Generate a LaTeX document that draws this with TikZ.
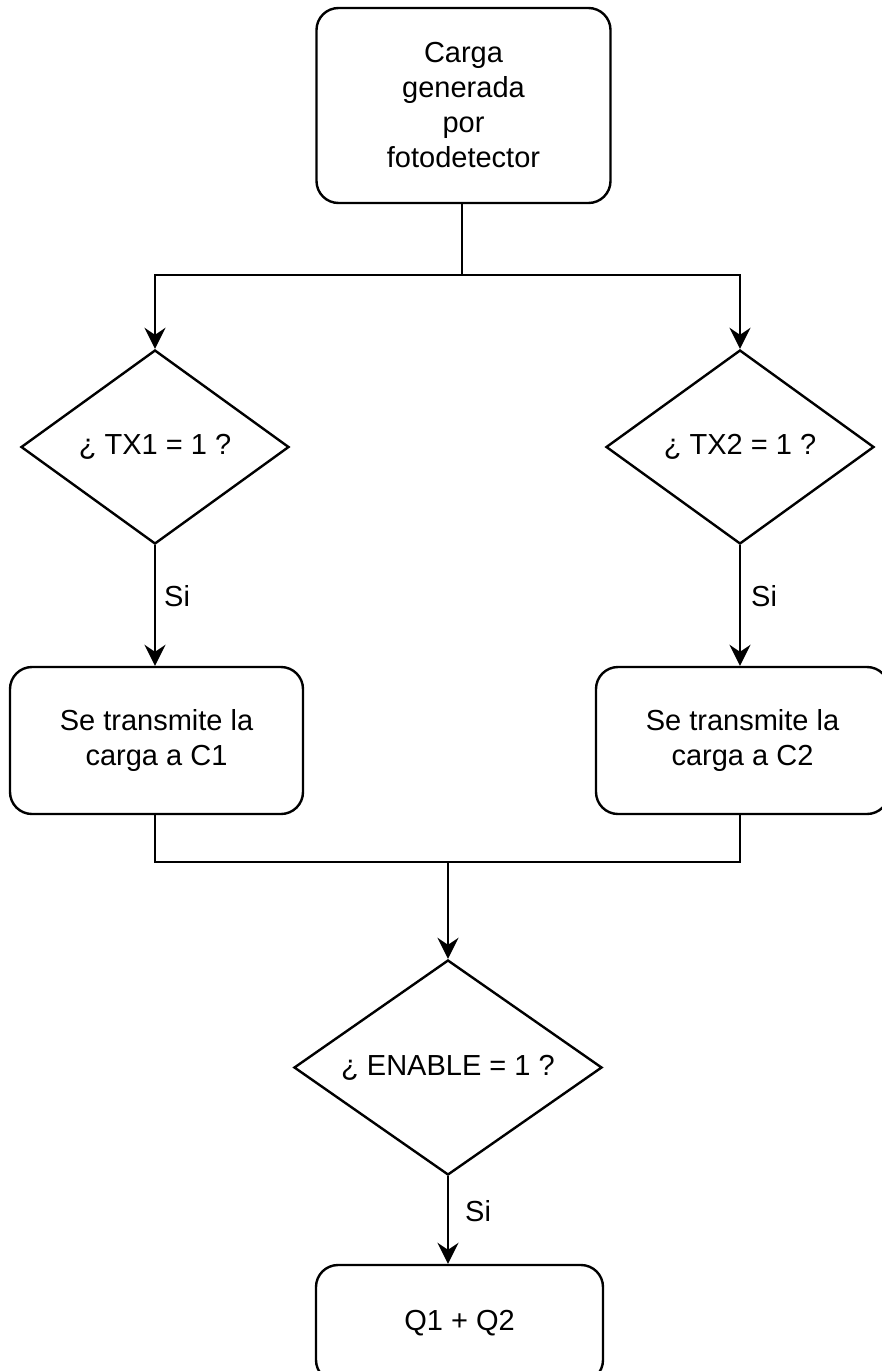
\documentclass[tikz,border=0pt]{standalone}
\usepackage{fontspec}
\setmainfont{Liberation Sans}
\usetikzlibrary{shapes.geometric,arrows.meta,calc}
\begin{document}
\begin{tikzpicture}[x=1pt,y=-1pt,
  every node/.style={font=\fontsize{29}{35}\selectfont},
  rbox/.style={draw, line width=2.4pt, rounded corners=22pt, inner sep=0pt, align=center},
  dec/.style={draw, diamond, line width=2.4pt, inner sep=0pt, align=center, shape aspect=1.4},
  conn/.style={line width=2.4pt},
  arr/.style={line width=2.4pt, -{Stealth[length=21pt,width=21pt,inset=7pt]}},
  lbl/.style={inner sep=0pt, anchor=west}]
\useasboundingbox (0,0) rectangle (881,1371);
\node[rbox, minimum width=294pt, minimum height=195pt] (top) at (463.5,105.5) {Carga\\generada\\por\\fotodetector};
\node[dec, minimum width=268pt, minimum height=194pt] (d1) at (155,447) {¿ TX1 = 1 ?};
\node[dec, minimum width=268pt, minimum height=194pt] (d2) at (740,447) {¿ TX2 = 1 ?};
\node[rbox, minimum width=293pt, minimum height=147pt] (b1) at (156.5,740.5) {Se transmite la\\carga a C1};
\node[rbox, minimum width=293pt, minimum height=147pt] (b2) at (742.5,740.5) {Se transmite la\\carga a C2};
\node[dec, minimum width=308pt, minimum height=215pt] (d3) at (448,1067.5) {¿ ENABLE = 1 ?};
\node[rbox, minimum width=287pt, minimum height=117pt] (q) at (459.5,1323.5) {Q1 + Q2};
\coordinate (split) at (462,275);
\coordinate (join) at (448,862);
\draw[conn] (top.south -| split) -- (split);
\draw[arr] (split) -| (d1.north);
\draw[arr] (split) -| (d2.north);
\draw[arr] (d1.south) -- (d1.south |- b1.north) node[lbl, pos=0.42, xshift=8pt] (s1) {Si};
\draw[arr] (d2.south) -- (d2.south |- b2.north) node[lbl, pos=0.42, xshift=10pt] (s2) {Si};
\draw[conn] (b1.south -| d1.south) -- (d1.south |- join) -- (d2.south |- join) -- (b2.south -| d2.south);
\draw[arr] (join) -- (d3.north);
\draw[arr] (d3.south) -- (d3.south |- q.north) node[lbl, pos=0.4, xshift=16pt] (s3) {Si};
\end{tikzpicture}
\end{document}
